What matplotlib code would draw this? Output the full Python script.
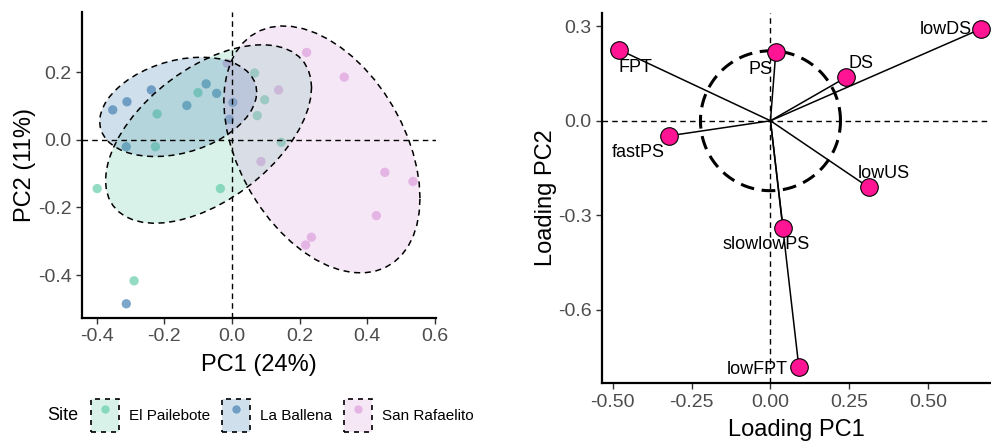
import numpy as np
import matplotlib
matplotlib.use('Agg')
import matplotlib.pyplot as plt
from matplotlib.patches import Polygon, Patch
from matplotlib.lines import Line2D

plt.rcParams['font.family'] = ['Liberation Sans', 'DejaVu Sans']
plt.rcParams['axes.unicode_minus'] = False

# PCA scores by site
sites = ['El Pailebote', 'La Ballena', 'San Rafaelito']
pc1_pailebote = [0.067, 0.097, 0.075, -0.100, -0.221, -0.226, 0.146, -0.398, -0.034, -0.289]
pc2_pailebote = [0.198, 0.119, 0.072, 0.140, 0.077, -0.020, -0.007, -0.144, -0.144, -0.417]
pc1_ballena = [-0.352, -0.310, -0.238, -0.076, -0.045, -0.133, 0.003, -0.007, -0.312, -0.312]
pc2_ballena = [0.089, 0.113, 0.148, 0.166, 0.138, 0.102, 0.111, 0.061, -0.020, -0.485]
pc1_rafaelito = [-0.014, 0.221, 0.332, 0.138, 0.086, 0.452, 0.535, 0.427, 0.235, 0.218]
pc2_rafaelito = [0.227, 0.259, 0.186, 0.148, -0.064, -0.096, -0.123, -0.224, -0.288, -0.311]

# loadings
variables = ['FPT', 'PS', 'DS', 'lowDS', 'fastPS', 'lowUS', 'slowlowPS', 'lowFPT']
load_pc1 = [-0.481, 0.017, 0.240, 0.666, -0.323, 0.311, 0.040, 0.090]
load_pc2 = [0.226, 0.219, 0.138, 0.291, -0.048, -0.211, -0.341, -0.782]
circle_radius = 0.222

colors = ['#66CDAA', '#4682B4', '#DDA0DD']
ellipse_level = 0.75


def cov_trob(x, nu=5, tol=1e-4, maxit=100):
    # robust t covariance (like MASS::cov.trob)
    n, p = x.shape
    loc = x.mean(axis=0)
    w = np.ones(n)
    for _ in range(maxit):
        w0 = w
        X = x - loc
        u, d, vt = np.linalg.svd(np.sqrt(w / w.sum())[:, None] * X, full_matrices=False)
        wX = X @ vt.T @ np.diag(1 / d)
        Q = (wX ** 2).sum(axis=1)
        w = (nu + p) / (nu + Q)
        loc = (w[:, None] * x).sum(axis=0) / w.sum()
        if np.all(np.abs(w - w0) < tol):
            break
    X = x - loc
    cov = (np.sqrt(w)[:, None] * X).T @ (np.sqrt(w)[:, None] * X) / n
    return loc, cov


def ellipse_pts(xs, ys, level, segments=51):
    x = np.column_stack([xs, ys])
    loc, cov = cov_trob(x)
    dfd = len(xs) - 1
    fq = dfd / 2 * ((1 - level) ** (-2 / dfd) - 1)
    radius = np.sqrt(2 * fq)
    ang = np.linspace(0, 2 * np.pi, segments)
    unit = np.column_stack([np.cos(ang), np.sin(ang)])
    chol = np.linalg.cholesky(cov).T
    return loc + radius * unit @ chol


fig = plt.figure(figsize=(9.91, 4.41), dpi=100)
ax1 = fig.add_axes([0.0827, 0.279, 0.3572, 0.694])
ax2 = fig.add_axes([0.6075, 0.131, 0.3915, 0.8395])

# ---- left panel: scores ----
groups = [(pc1_pailebote, pc2_pailebote), (pc1_ballena, pc2_ballena), (pc1_rafaelito, pc2_rafaelito)]
for (xs, ys), col in zip(groups, colors):
    ax1.scatter(xs, ys, s=45, color=col, alpha=0.7, edgecolors='none', zorder=3)
for (xs, ys), col in zip(groups, colors):
    pts = ellipse_pts(np.array(xs), np.array(ys), ellipse_level)
    ax1.add_patch(Polygon(pts, closed=True, facecolor=col, alpha=0.25, edgecolor='none', zorder=4))
    ax1.plot(pts[:, 0], pts[:, 1], color='black', lw=1.1, ls=(0, (4, 3)), zorder=5)
ax1.axhline(0, color='black', lw=1.0, ls=(0, (4, 3)), zorder=6)
ax1.axvline(0, color='black', lw=1.0, ls=(0, (4, 3)), zorder=6)
ax1.set_xlim(-0.443, 0.603)
ax1.set_ylim(-0.527, 0.379)
ax1.set_xticks([-0.4, -0.2, 0.0, 0.2, 0.4, 0.6])
ax1.set_yticks([-0.4, -0.2, 0.0, 0.2])
ax1.set_xlabel('PC1 (24%)', fontsize=17, labelpad=6)
ax1.set_ylabel('PC2 (11%)', fontsize=17, labelpad=1)

# legend
handles = [(Patch(facecolor=c, alpha=0.25, edgecolor='none'),
            Patch(facecolor='none', edgecolor='black', ls=(0, (3, 3)), lw=1.2),
            Line2D([], [], marker='o', ls='none', color=c, alpha=0.7, markersize=6, markeredgewidth=0))
           for c in colors]
fig.legend(handles, sites, loc='center left', bbox_to_anchor=(0.092, 0.058), ncol=3, frameon=False,
           fontsize=11, handlelength=1.85, handleheight=3.0, columnspacing=0.75, handletextpad=0.65,
           borderaxespad=0, borderpad=0)
fig.text(0.048, 0.058, 'Site', fontsize=13, va='center')

# ---- right panel: loadings ----
ang = np.linspace(0, 2 * np.pi, 101)
ax2.plot(circle_radius * np.cos(ang), circle_radius * np.sin(ang), color='black', lw=2.2,
         ls=(0, (4.5, 2.5)), zorder=2)
ax2.axhline(0, color='black', lw=1.0, ls=(0, (4, 3)), zorder=1)
ax2.axvline(0, color='black', lw=1.0, ls=(0, (4, 3)), zorder=1)
for x, y in zip(load_pc1, load_pc2):
    ax2.plot([0, x], [0, y], color='black', lw=1.1, zorder=3)
ax2.scatter(load_pc1, load_pc2, s=160, color='#FF1493', edgecolors='black', linewidths=0.8, zorder=4)

label_offsets = {'FPT': (12, -13, 'center'), 'PS': (-11, -13, 'center'), 'DS': (11, 10, 'center'),
                 'lowDS': (-6, 0, 'right'), 'fastPS': (-22, -12, 'center'), 'lowUS': (11, 10, 'center'),
                 'slowlowPS': (-12, -11.5, 'center'), 'lowFPT': (-30, -2, 'center')}
for name, x, y in zip(variables, load_pc1, load_pc2):
    dx, dy, ha = label_offsets[name]
    ax2.annotate(name, (x, y), xytext=(dx, dy), textcoords='offset points', ha=ha, va='center',
                 fontsize=13, zorder=5)

ax2.set_xlim(-0.534, 0.696)
ax2.set_ylim(-0.833, 0.342)
ax2.set_xticks([-0.5, -0.25, 0.0, 0.25, 0.5])
ax2.set_xticklabels(['-0.50', '-0.25', '0.00', '0.25', '0.50'])
ax2.set_yticks([-0.6, -0.3, 0.0, 0.3])
ax2.set_xlabel('Loading PC1', fontsize=17, labelpad=6)
ax2.set_ylabel('Loading PC2', fontsize=17, labelpad=1)

for ax in (ax1, ax2):
    for s in ('top', 'right'):
        ax.spines[s].set_visible(False)
    for s in ('left', 'bottom'):
        ax.spines[s].set_linewidth(1.6)
    ax.tick_params(labelsize=14, labelcolor='#4D4D4D', color='#333333', length=4, width=1)

fig.savefig('out.png', dpi=100)
